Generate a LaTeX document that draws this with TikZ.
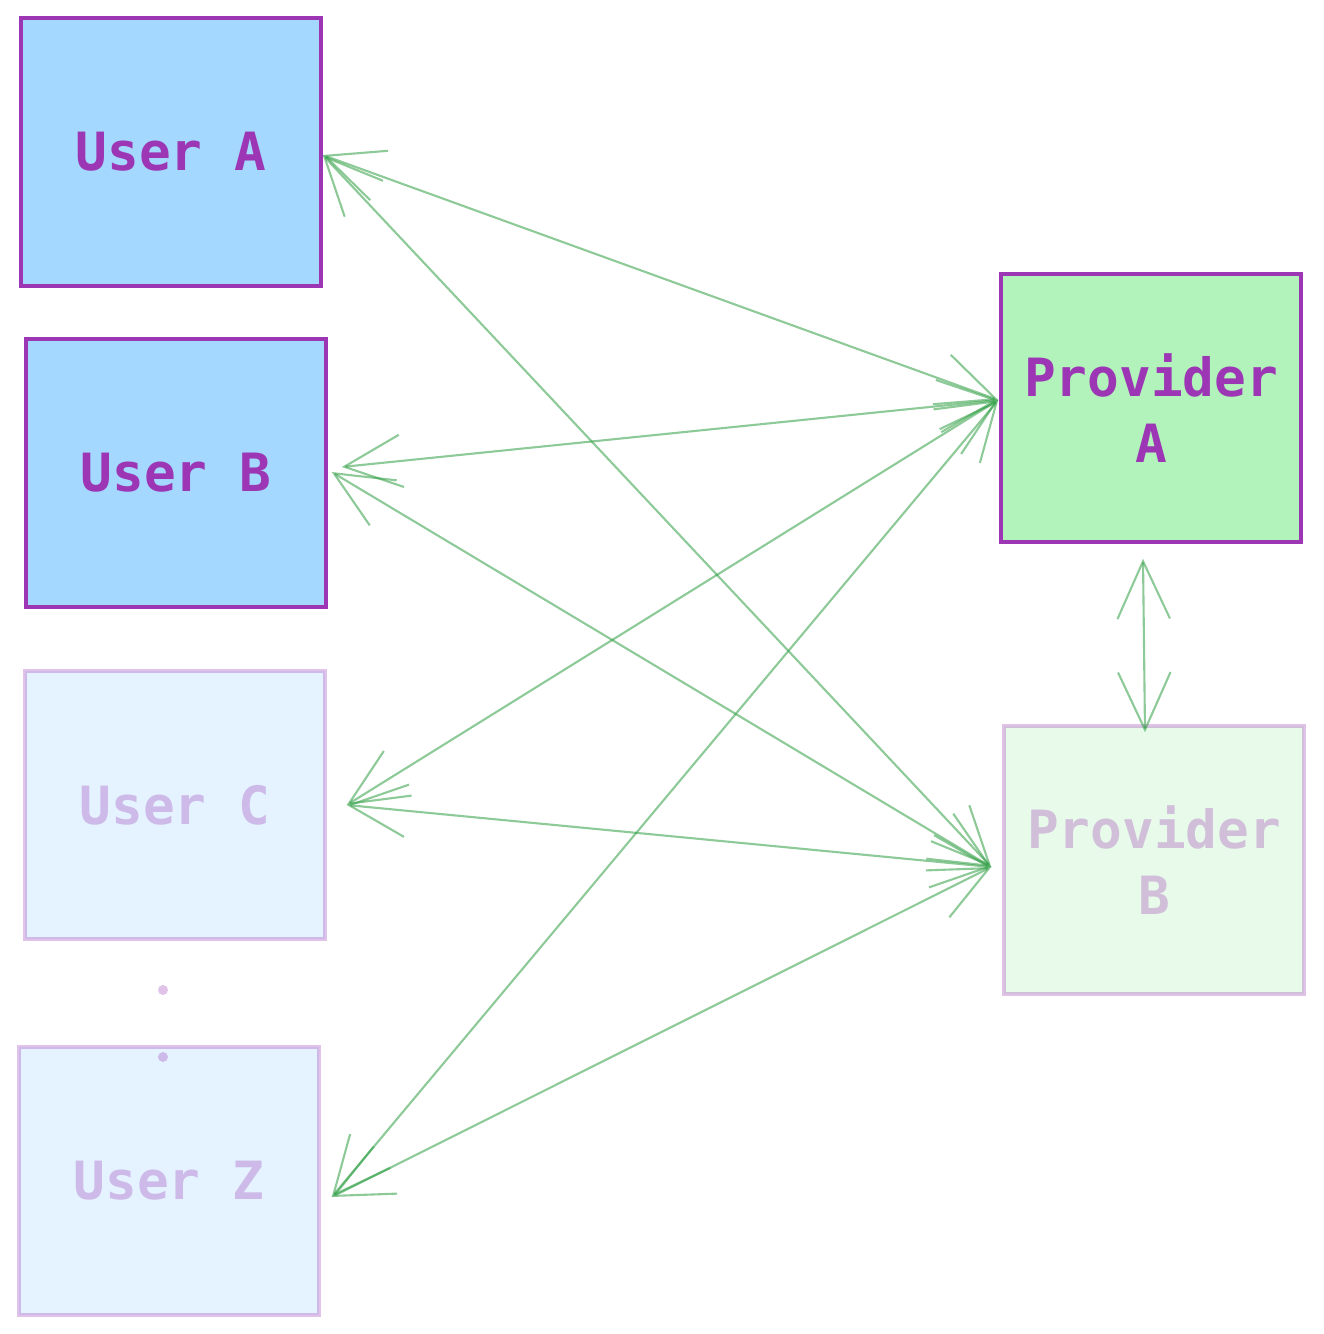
\documentclass[tikz,border=0pt]{standalone}
\usepackage{fontspec}
\newfontfamily\codefont{DejaVu Sans Mono}
\usetikzlibrary{arrows.meta, calc}
\definecolor{boxpurple}{HTML}{9C36B5}
\definecolor{userblue}{HTML}{A5D8FF}
\definecolor{provgreen}{HTML}{B2F2BB}
\definecolor{linkgreen}{HTML}{2F9E44}

\tikzset{
  box/.style={draw=boxpurple, line width=2pt, minimum width=6cm, minimum height=5.36cm,
    inner sep=0pt, text=boxpurple, align=center,
    font=\codefont\bfseries\fontsize{30}{38}\selectfont},
  faded/.style={draw opacity=0.3, fill opacity=0.3, text opacity=0.3},
  barb/.tip={Straight Barb[length=1.15cm, width=1.05cm]},
  link/.style={linkgreen, draw opacity=0.55, line width=1.2pt, barb-barb},
}

\begin{document}
\begin{tikzpicture}[x=0.02cm, y=-0.02cm]
  \useasboundingbox (0,0) rectangle (1323,1334);
  \node[box, fill=userblue] (ua) at (171,152) {User A};
  \node[box, fill=userblue] (ub) at (176,473) {User B};
  \node[box, fill=userblue, faded] (uc) at (175,805) {User C};
  \node[box, fill=userblue, faded] (uz) at (169,1181) {User Z};
  \node[box, fill=provgreen] (pa) at (1151,408) {Provider\\A};
  \node[box, fill=provgreen, faded] (pb) at (1154,860) {Provider\\B};
  \fill[boxpurple, opacity=0.3] (163,990) coordinate (dota) circle[radius=0.1cm];
  \fill[boxpurple, opacity=0.3] (163,1057) coordinate (dotb) circle[radius=0.1cm];
  % connector ends
  \coordinate (paIn) at ($(pa.west)+(-1,-8)$);
  \coordinate (pbIn) at ($(pb.west)+(-11,7)$);
  \draw[link] ($(ua.east)+(0,3)$) -- (paIn);
  \draw[link] ($(ua.east)+(0,3)$) -- (pbIn);
  \draw[link] ($(ub.east)+(14,-6)$) -- (paIn);
  \draw[link] ($(ub.east)+(4,-1)$) -- (pbIn);
  \draw[link] ($(uc.east)+(20,0)$) -- (paIn);
  \draw[link] ($(uc.east)+(20,0)$) -- (pbIn);
  \draw[link] ($(uz.east)+(11,16)$) -- (paIn);
  \draw[link] ($(uz.east)+(11,16)$) -- (pbIn);
  \draw[link] ($(pa.south)+(-8,15)$) -- ($(pb.north)+(-9,8)$);
\end{tikzpicture}
\end{document}
